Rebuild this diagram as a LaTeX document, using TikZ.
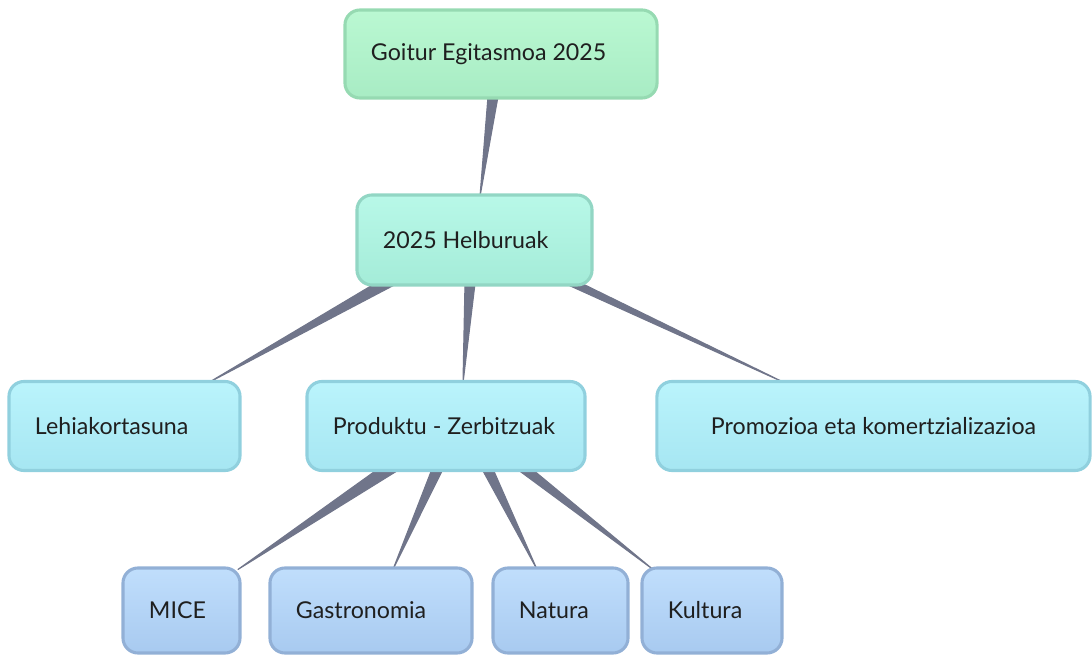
\documentclass[tikz,border=0pt]{standalone}
\usepackage{fontspec}
\setmainfont{Lato}
\usepackage{tikz}
\usepackage{xcolor}
\usetikzlibrary{calc}

\definecolor{linkgray}{RGB}{112,117,138}
\definecolor{greentop}{RGB}{186,248,210}
\definecolor{greenbot}{RGB}{168,236,196}
\definecolor{greenline}{RGB}{150,218,178}
\definecolor{minttop}{RGB}{184,248,232}
\definecolor{mintbot}{RGB}{164,236,216}
\definecolor{mintline}{RGB}{146,214,196}
\definecolor{cyantop}{RGB}{186,244,252}
\definecolor{cyanbot}{RGB}{166,230,242}
\definecolor{cyanline}{RGB}{144,208,222}
\definecolor{bluetop}{RGB}{192,222,252}
\definecolor{bluebot}{RGB}{168,202,240}
\definecolor{blueline}{RGB}{146,176,214}

\pgfdeclarelayer{bg}
\pgfsetlayers{bg,main}

\tikzset{
  box/.style={rounded corners=0.375cm, line width=2.2pt, align=flush left,
    text=black!88, font=\fontsize{16.5}{20}\selectfont, inner xsep=0.65cm, inner ysep=0pt},
  titlebox/.style={box, draw=greenline, top color=greentop, bottom color=greenbot},
  aimbox/.style={box, draw=mintline, top color=minttop, bottom color=mintbot},
  areabox/.style={box, draw=cyanline, top color=cyantop, bottom color=cyanbot},
  leafbox/.style={box, draw=blueline, top color=bluetop, bottom color=bluebot},
  branch/.style={fill=linkgray, draw=linkgray, line width=0.8pt, line join=round}
}

% #1 parent, #2 shift on its bottom edge, #3 half width, #4 child, #5 shift on its top edge
\newcommand{\branch}[5]{%
  \fill[branch] ($(#1.south)+(#2-#3,-3)$) -- ($(#1.south)+(#2+#3,-3)$)
    -- ($(#4.north)+(#5,3)$) -- cycle;}

\begin{document}
\begin{tikzpicture}[x=0.025cm, y=-0.025cm]
    \useasboundingbox (0,0) rectangle (1092,655);

    \node[titlebox, text width=6.5cm, minimum height=2.2cm] (top) at (501,54) {Goitur Egitasmoa 2025};
    \node[aimbox, text width=4.575cm, minimum height=2.25cm] (aims) at (474.5,240) {2025 Helburuak};

    \node[areabox, text width=4.475cm, minimum height=2.225cm] (lehia) at (124.5,426) {Lehiakortasuna};
    \node[areabox, text width=5.65cm, minimum height=2.225cm] (prod) at (446,426) {Produktu - Zerbitzuak};
    \node[areabox, text width=9.525cm, minimum height=2.225cm, align=flush center] (promo) at (873.5,426) {Promozioa eta komertzializazioa};

    \node[leafbox, text width=1.625cm, minimum height=2.125cm] (mice) at (181.5,610.5) {MICE};
    \node[leafbox, text width=3.75cm, minimum height=2.125cm] (gastro) at (371,610.5) {Gastronomia};
    \node[leafbox, text width=2.075cm, minimum height=2.125cm] (natura) at (560.5,610.5) {Natura};
    \node[leafbox, text width=2.2cm, minimum height=2.125cm] (kultura) at (712,610.5) {Kultura};

    \begin{pgfonlayer}{bg}
        \branch{top}{-8}{5}{aims}{5.5}
        \branch{aims}{-88.5}{11}{lehia}{83.5}
        \branch{aims}{-4.5}{5}{prod}{17}
        \branch{aims}{99}{8.5}{promo}{-88.5}
        \branch{prod}{-57}{11}{mice}{56.5}
        \branch{prod}{-8.5}{5.5}{gastro}{22}
        \branch{prod}{41.5}{5.5}{natura}{-23.5}
        \branch{prod}{78.5}{7.5}{kultura}{-59}
    \end{pgfonlayer}
\end{tikzpicture}
\end{document}
